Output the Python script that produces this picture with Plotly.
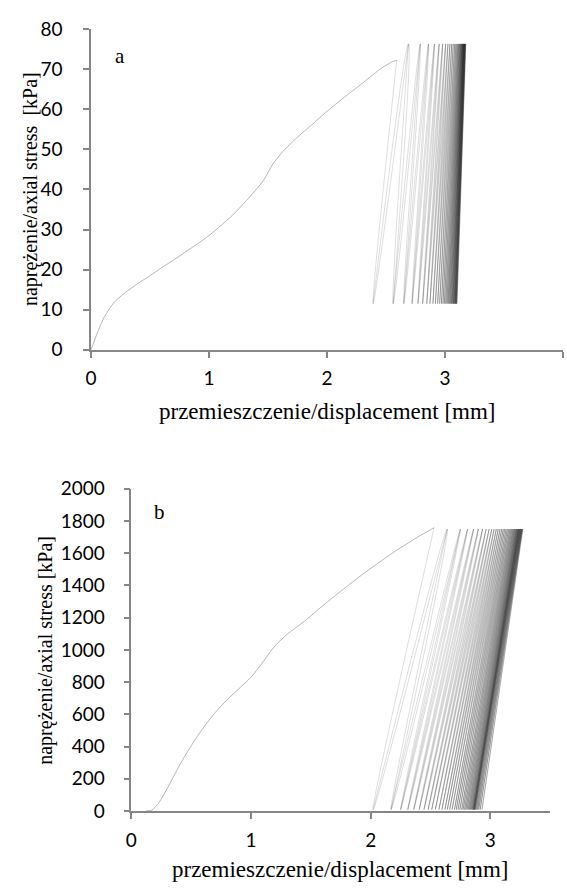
import plotly.graph_objects as go

# ---------------- data ----------------
# (a) virgin loading curve
a_virgin_x = [0, 0.05, 0.1, 0.15, 0.2, 0.3, 0.4, 0.5, 0.6, 0.7, 0.8, 0.9, 1.0,
              1.1, 1.2, 1.35, 1.46, 1.54, 1.62, 1.74, 1.85, 2.02, 2.16, 2.3,
              2.45, 2.55, 2.59]
a_virgin_y = [0, 4, 7.5, 10, 12, 14.5, 16.6, 18.5, 20.5, 22.4, 24.4, 26.4, 28.5,
              31, 33.6, 38.3, 42.2, 46.3, 49.3, 52.8, 55.6, 60, 63.3, 66.5,
              70, 71.8, 72.2]
# (a) cycles: displacement at each peak (upper turning point) and trough
a_peak_x = [2.69, 2.79, 2.86, 2.91, 2.95, 2.98, 3.005, 3.025, 3.042, 3.057, 3.07, 3.082,
            3.092, 3.101, 3.109, 3.116, 3.122, 3.128, 3.133, 3.138, 3.142, 3.146, 3.15,
            3.153, 3.156, 3.159, 3.162, 3.165, 3.168, 3.171, 3.174, 3.177]
a_trough_x = [2.39, 2.56, 2.65, 2.72, 2.77, 2.81, 2.845, 2.872, 2.897, 2.918, 2.937, 2.954,
              2.969, 2.982, 2.994, 3.005, 3.015, 3.024, 3.032, 3.04, 3.047, 3.054, 3.06,
              3.066, 3.071, 3.076, 3.081, 3.085, 3.089, 3.093, 3.097, 3.101]
a_peak_stress = 76.3
a_trough_stress = 11.5

# (b) virgin loading curve
b_virgin_x = [0.12, 0.17, 0.22, 0.3, 0.4, 0.5, 0.6, 0.7, 0.8, 0.9, 1.0, 1.1, 1.2, 1.3,
              1.45, 1.65, 1.92, 2.2, 2.42, 2.53]
b_virgin_y = [0, 5, 40, 140, 280, 405, 515, 610, 690, 760, 830, 925, 1025, 1095,
              1180, 1305, 1462, 1610, 1712, 1758]
# (b) cycles
b_peak_x = [2.64, 2.75, 2.81, 2.86, 2.90, 2.935, 2.965, 2.99, 3.012, 3.032, 3.05, 3.066,
            3.081, 3.095, 3.108, 3.12, 3.132, 3.143, 3.153, 3.163, 3.172, 3.18, 3.188,
            3.195, 3.202, 3.208, 3.214, 3.219, 3.224, 3.229, 3.233, 3.237, 3.241, 3.245,
            3.249, 3.253, 3.257, 3.261, 3.265, 3.269, 3.273]
b_trough_x = [2.02, 2.17, 2.25, 2.31, 2.36, 2.405, 2.445, 2.48, 2.51, 2.54, 2.57, 2.595,
              2.62, 2.64, 2.66, 2.68, 2.70, 2.715, 2.73, 2.745, 2.76, 2.772, 2.784,
              2.795, 2.805, 2.815, 2.824, 2.832, 2.84, 2.847, 2.853, 2.858, 2.862, 2.866,
              2.87, 2.876, 2.884, 2.893, 2.903, 2.915, 2.93]
b_peak_stress = 1750
b_trough_stress = 8

# ---------------- figure ----------------
fig = go.Figure()
LINE_A = 'rgba(0,0,0,0.15)'
W = 0.9


def add_panel(vx, vy, px, tx, ps, ts, xa, ya):
    fig.add_trace(go.Scatter(x=vx, y=vy, mode='lines', xaxis=xa, yaxis=ya,
                             line=dict(color='rgba(0,0,0,0.32)', width=W, shape='spline',
                                       smoothing=0.6),
                             hoverinfo='skip', showlegend=False))
    peaks_x = [vx[-1]] + px
    peaks_y = [vy[-1]] + [ps] * len(px)
    for i in range(len(tx)):
        # unloading to trough i and reloading to peak i (rounded trough)
        fig.add_trace(go.Scatter(
            x=[peaks_x[i], tx[i], peaks_x[i + 1]],
            y=[peaks_y[i], ts, peaks_y[i + 1]],
            mode='lines', xaxis=xa, yaxis=ya,
            line=dict(color=LINE_A, width=W, shape='spline', smoothing=1.3),
            hoverinfo='skip', showlegend=False))
        # reloading to peak i and unloading to next trough (rounded peak)
        if i + 1 < len(tx):
            fig.add_trace(go.Scatter(
                x=[tx[i], peaks_x[i + 1], tx[i + 1]],
                y=[ts, peaks_y[i + 1], ts],
                mode='lines', xaxis=xa, yaxis=ya,
                line=dict(color=LINE_A, width=W, shape='spline', smoothing=1.3),
                hoverinfo='skip', showlegend=False))


add_panel(a_virgin_x, a_virgin_y, a_peak_x, a_trough_x, a_peak_stress, a_trough_stress, 'x', 'y')
add_panel(b_virgin_x, b_virgin_y, b_peak_x, b_trough_x, b_peak_stress, b_trough_stress, 'x2', 'y2')

AX = '#868686'
common = dict(showline=True, linecolor=AX, linewidth=1.5, ticks='outside', tickcolor=AX,
              ticklen=6, tickwidth=1.5, showgrid=False, zeroline=False,
              tickfont=dict(family='Lato', size=19, color='#000'))

W_PX, H_PX = 567, 896


def dom(a, b, total):
    return [a / total, b / total]


fig.update_layout(
    width=W_PX, height=H_PX,
    margin=dict(l=0, r=0, t=0, b=0),
    paper_bgcolor='white', plot_bgcolor='white',
    xaxis=dict(common, domain=dom(86, 563, W_PX), range=[0, 4], dtick=1, anchor='y',
               ticklabelstandoff=5),
    yaxis=dict(common, domain=[1 - 346.7 / H_PX, 1 - 17.5 / H_PX], range=[0, 80], dtick=10,
               anchor='x', ticklabelstandoff=17),
    xaxis2=dict(common, domain=dom(126.7, 550, W_PX), range=[0, 3.5], tickvals=[0, 1, 2, 3],
                anchor='y2', ticklabelstandoff=5),
    yaxis2=dict(common, domain=[1 - 820 / H_PX, 1 - 489.3 / H_PX], range=[0, 2000], dtick=200,
                anchor='x2', ticklabelstandoff=15),
)

SERIF = 'Liberation Serif'
ann = [
    dict(text='przemieszczenie/displacement [mm]', x=324.5 / W_PX, y=1 - 410 / H_PX, size=23),
    dict(text='naprężenie/axial stress  [kPa]', x=25 / W_PX, y=1 - 182 / H_PX, textangle=-90, size=20),
    dict(text='a', x=115 / W_PX, y=1 - 45 / H_PX, size=21),
    dict(text='przemieszczenie/displacement [mm]', x=338 / W_PX, y=1 - 880 / H_PX, size=23),
    dict(text='naprężenie/axial stress [kPa]', x=40 / W_PX, y=1 - 655 / H_PX, textangle=-90, size=20),
    dict(text='b', x=155 / W_PX, y=1 - 513 / H_PX, size=21),
]
for a in ann:
    size = a.pop('size')
    fig.add_annotation(xref='paper', yref='paper', showarrow=False,
                       xanchor='center', yanchor='middle',
                       font=dict(family=SERIF, size=size, color='#000'), **a)

fig.write_html('out.html')
